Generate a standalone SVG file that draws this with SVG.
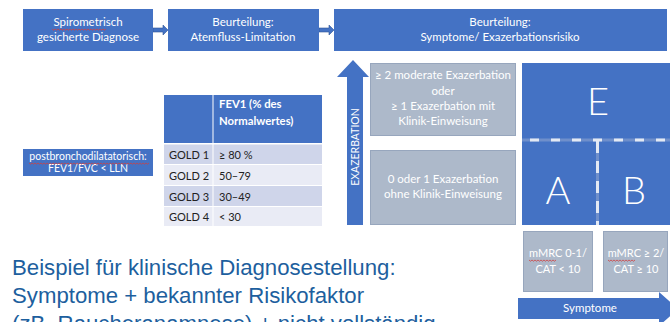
<svg xmlns="http://www.w3.org/2000/svg" width="670" height="322" viewBox="0 0 670 322">
<defs>
<style>
.bx{fill:#4472C4;}
.gr{fill:#ADB9CA;stroke:#97A6BD;stroke-width:1;}
.t{font-family:Lato,"Open Sans","Liberation Sans",sans-serif;font-size:11.5px;fill:#ffffff;text-anchor:middle;}
.tl{font-family:Lato,"Open Sans","Liberation Sans",sans-serif;font-size:11px;fill:#222222;}
.th{font-family:Lato,"Open Sans","Liberation Sans",sans-serif;font-size:11.3px;fill:#ffffff;font-weight:bold;}
.big{font-family:Lato,"Open Sans","Liberation Sans",sans-serif;font-size:38px;font-weight:300;fill:#ffffff;text-anchor:middle;}
.main{font-family:"Liberation Sans",Arial,sans-serif;font-size:22.2px;fill:#1D5F9E;}
.wav{fill:none;stroke:#D04040;stroke-width:0.8;}
.conn{fill:#4472C4;stroke:#2F5597;stroke-width:0.6;}
.r1{fill:#CFD5EA;}
.r2{fill:#E9EBF5;}
</style>
</defs>
<rect width="670" height="322" fill="#ffffff"/>

<g id="connectors">
<path class="conn" d="M153,28 L163,28 L163,25 L168,30 L163,35 L163,32 L153,32 Z"/>
<path class="conn" d="M319,28 L329,28 L329,25 L334,30 L329,35 L329,32 L319,32 Z"/>
</g>

<g id="box-spirometrie">
<rect class="bx" x="23" y="9" width="130" height="42"/>
<text class="t" x="88" y="26">Spirometrisch</text>
<text class="t" x="88" y="41">gesicherte Diagnose</text>
<path class="wav" d="M52,29 l1.5,1.2 l1.5,-1.2 l1.5,1.2 l1.5,-1.2 l1.5,1.2 l1.5,-1.2 l1.5,1.2 l1.5,-1.2 l1.5,1.2 l1.5,-1.2 l1.5,1.2 l1.5,-1.2 l1.5,1.2 l1.5,-1.2 l1.5,1.2 l1.5,-1.2 l1.5,1.2 l1.5,-1.2 l1.5,1.2 l1.5,-1.2 l1.5,1.2 l1.5,-1.2 l1.5,1.2 l1.5,-1.2 l1.5,1.2 l1.5,-1.2 l1.5,1.2 l1.5,-1.2 l1.5,1.2 l1.5,-1.2 l1.5,1.2 l1.5,-1.2 l1.5,1.2 l1.5,-1.2 l1.5,1.2 l1.5,-1.2"/>
</g>

<g id="box-atemfluss">
<rect class="bx" x="168" y="9" width="151" height="42"/>
<text class="t" x="243" y="26">Beurteilung:</text>
<text class="t" x="243" y="41">Atemfluss-Limitation</text>
</g>

<g id="box-symptome-risiko">
<rect class="bx" x="334" y="9" width="333" height="42"/>
<text class="t" x="500" y="26">Beurteilung:</text>
<text class="t" x="500" y="41">Symptome/ Exazerbationsrisiko</text>
</g>

<g id="box-postbronch">
<rect class="bx" x="23" y="149" width="130" height="27"/>
<text class="t" x="88" y="160" style="font-size:10.5px">postbronchodilatatorisch:</text>
<text class="t" x="88" y="172" style="font-size:10.5px">FEV1/FVC &lt; LLN</text>
<path class="wav" d="M29,163 l1.5,1.2 l1.5,-1.2 l1.5,1.2 l1.5,-1.2 l1.5,1.2 l1.5,-1.2 l1.5,1.2 l1.5,-1.2 l1.5,1.2 l1.5,-1.2 l1.5,1.2 l1.5,-1.2 l1.5,1.2 l1.5,-1.2 l1.5,1.2 l1.5,-1.2 l1.5,1.2 l1.5,-1.2 l1.5,1.2 l1.5,-1.2 l1.5,1.2 l1.5,-1.2 l1.5,1.2 l1.5,-1.2 l1.5,1.2 l1.5,-1.2 l1.5,1.2 l1.5,-1.2 l1.5,1.2 l1.5,-1.2 l1.5,1.2 l1.5,-1.2 l1.5,1.2 l1.5,-1.2 l1.5,1.2 l1.5,-1.2 l1.5,1.2 l1.5,-1.2 l1.5,1.2 l1.5,-1.2 l1.5,1.2 l1.5,-1.2 l1.5,1.2 l1.5,-1.2 l1.5,1.2 l1.5,-1.2 l1.5,1.2 l1.5,-1.2 l1.5,1.2 l1.5,-1.2 l1.5,1.2 l1.5,-1.2 l1.5,1.2 l1.5,-1.2 l1.5,1.2 l1.5,-1.2 l1.5,1.2 l1.5,-1.2 l1.5,1.2 l1.5,-1.2 l1.5,1.2 l1.5,-1.2 l1.5,1.2 l1.5,-1.2 l1.5,1.2 l1.5,-1.2 l1.5,1.2 l1.5,-1.2 l1.5,1.2 l1.5,-1.2 l1.5,1.2 l1.5,-1.2 l1.5,1.2 l1.5,-1.2 l1.5,1.2 l1.5,-1.2 l1.5,1.2 l1.5,-1.2 l1.5,1.2 l1.5,-1.2"/>
</g>

<g id="table-gold">
<rect class="bx" x="164" y="95" width="48.5" height="48"/>
<rect class="bx" x="213.5" y="95" width="108.5" height="48"/>
<text class="th" x="219" y="108">FEV1 (% des</text>
<text class="th" x="219" y="125">Normalwertes)</text>
<rect class="r1" x="164" y="144.5" width="48.5" height="19.5"/>
<rect class="r1" x="213.5" y="144.5" width="108.5" height="19.5"/>
<rect class="r2" x="164" y="165" width="48.5" height="20"/>
<rect class="r2" x="213.5" y="165" width="108.5" height="20"/>
<rect class="r1" x="164" y="186" width="48.5" height="20"/>
<rect class="r1" x="213.5" y="186" width="108.5" height="20"/>
<rect class="r2" x="164" y="207" width="48.5" height="19"/>
<rect class="r2" x="213.5" y="207" width="108.5" height="19"/>
<text class="tl" x="169" y="159">GOLD 1</text><text class="tl" x="219" y="159">≥ 80 %</text>
<text class="tl" x="169" y="180">GOLD 2</text><text class="tl" x="219" y="180">50–79</text>
<text class="tl" x="169" y="201">GOLD 3</text><text class="tl" x="219" y="201">30–49</text>
<text class="tl" x="169" y="221">GOLD 4</text><text class="tl" x="219" y="221">&lt; 30</text>
</g>

<g id="axis-exazerbation">
<path class="bx" d="M347,225 L347,77 L337,77 L353,60 L369,77 L363,77 L363,225 Z"/>
<text class="t" transform="translate(358.8,147) rotate(-90)" style="font-size:10.5px">EXAZERBATION</text>
</g>

<g id="box-exa-hoch">
<rect class="gr" x="370.5" y="63.5" width="145" height="72"/>
<text class="t" x="443" y="79">≥ 2 moderate Exazerbation</text>
<text class="t" x="443" y="95">oder</text>
<text class="t" x="443" y="110">≥ 1 Exazerbation mit</text>
<text class="t" x="443" y="125">Klinik-Einweisung</text>
</g>

<g id="box-exa-niedrig">
<rect class="gr" x="370.5" y="150.5" width="145" height="74"/>
<text class="t" x="443" y="183">0 oder 1 Exazerbation</text>
<text class="t" x="443" y="198">ohne Klinik-Einweisung</text>
</g>

<g id="group-E">
<rect class="bx" x="522" y="63" width="148" height="78"/>
<text class="big" x="598" y="115">E</text>
</g>

<g id="group-A">
<rect class="bx" x="522" y="139" width="75" height="86"/>
<text class="big" x="558" y="204">A</text>
</g>

<g id="group-B">
<rect class="bx" x="597" y="139" width="73" height="86"/>
<text class="big" x="634" y="204">B</text>
</g>

<g id="dividers">
<line x1="522" y1="140" x2="670" y2="140" stroke="#6F8FCB" stroke-width="3"/>
<line x1="522" y1="140" x2="670" y2="140" stroke="#E3E9F4" stroke-width="3" stroke-dasharray="9 12" stroke-dashoffset="-8"/>
<line x1="597.5" y1="141" x2="597.5" y2="225" stroke="#6F8FCB" stroke-width="3"/>
<line x1="597.5" y1="141" x2="597.5" y2="225" stroke="#E3E9F4" stroke-width="3" stroke-dasharray="12 8"/>
</g>

<g id="box-mmrc-low">
<rect class="gr" x="523.5" y="231.5" width="69" height="60"/>
<text class="t" x="558" y="257" style="font-size:11px">mMRC 0-1/</text>
<text class="t" x="558" y="273" style="font-size:11px">CAT &lt; 10</text>
<path class="wav" d="M529,260 l1.5,1.2 l1.5,-1.2 l1.5,1.2 l1.5,-1.2 l1.5,1.2 l1.5,-1.2 l1.5,1.2 l1.5,-1.2 l1.5,1.2 l1.5,-1.2 l1.5,1.2 l1.5,-1.2 l1.5,1.2 l1.5,-1.2 l1.5,1.2 l1.5,-1.2 l1.5,1.2 l1.5,-1.2"/>
</g>

<g id="box-mmrc-high">
<rect class="gr" x="603.5" y="231.5" width="64" height="60"/>
<text class="t" x="636" y="257" style="font-size:11px">mMRC ≥ 2/</text>
<text class="t" x="636" y="273" style="font-size:11px">CAT ≥ 10</text>
<path class="wav" d="M608,260 l1.5,1.2 l1.5,-1.2 l1.5,1.2 l1.5,-1.2 l1.5,1.2 l1.5,-1.2 l1.5,1.2 l1.5,-1.2 l1.5,1.2 l1.5,-1.2 l1.5,1.2 l1.5,-1.2 l1.5,1.2 l1.5,-1.2 l1.5,1.2 l1.5,-1.2 l1.5,1.2 l1.5,-1.2"/>
</g>

<g id="axis-symptome">
<path class="bx" d="M518,298 L659,298 L659,292 L678,309 L659,326 L659,319 L518,319 Z"/>
<text class="t" x="590" y="312">Symptome</text>
</g>

<g id="caption">
<text class="main" x="12" y="275">Beispiel für klinische Diagnosestellung:</text>
<text class="main" x="12" y="303">Symptome + bekannter Risikofaktor</text>
<text class="main" x="12" y="331">(zB. Raucheranamnese) + nicht vollständig</text>
</g>
</svg>
